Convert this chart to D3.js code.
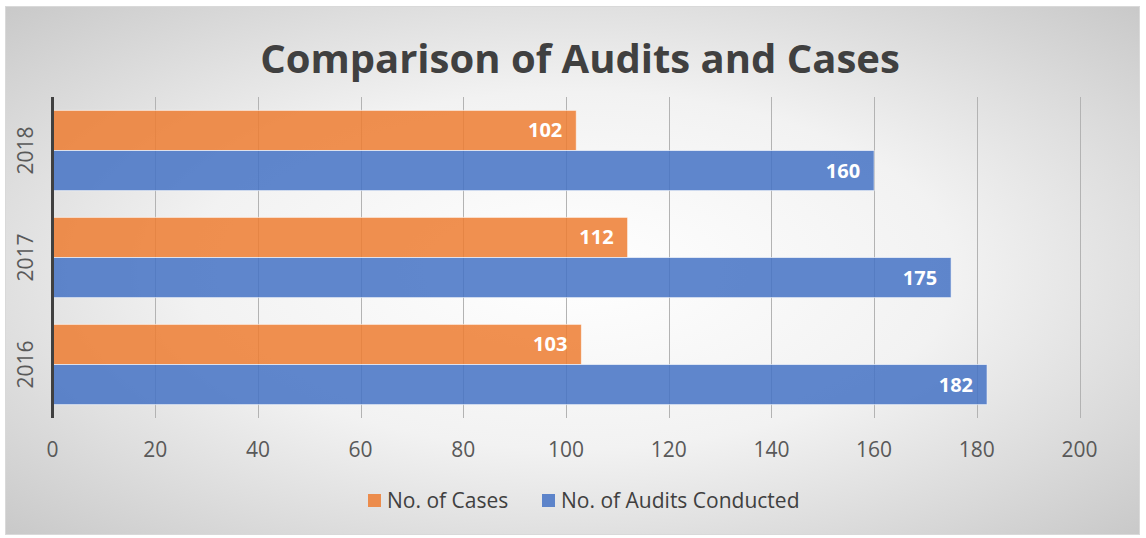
<!DOCTYPE html>
<html>
<head>
<meta charset="utf-8">
<script src="https://cdn.jsdelivr.net/npm/d3@7"></script>
<style>
  html, body { margin: 0; padding: 0; background: #fff; }
  svg text { font-family: 'Open Sans', 'Noto Sans', sans-serif; }
</style>
</head>
<body>
<svg id="chart"></svg>
<script>
const years = ['2018', '2017', '2016'];
const cases = [102, 112, 103];
const audits = [160, 175, 182];
const xTicks = [0, 20, 40, 60, 80, 100, 120, 140, 160, 180, 200];
const seriesNames = ['No. of Cases', 'No. of Audits Conducted'];
const seriesColors = ['#ED7D31', '#4472C4'];

const W = 1146, H = 538;
const margin = { top: 97, right: 66, bottom: 120, left: 52.5 };

const svg = d3.select('#chart').attr('width', W).attr('height', H);

// background with radial gradient
const defs = svg.append('defs');
const grad = defs.append('radialGradient')
  .attr('id', 'bg')
  .attr('cx', '50%').attr('cy', '50%').attr('r', '75%');
grad.append('stop').attr('offset', '0%').attr('stop-color', '#ffffff');
grad.append('stop').attr('offset', '45%').attr('stop-color', '#f2f2f2');
grad.append('stop').attr('offset', '100%').attr('stop-color', '#c4c4c4');

svg.append('rect')
  .attr('x', 5.5).attr('y', 6.5)
  .attr('width', 1134).attr('height', 528)
  .attr('fill', 'url(#bg)')
  .attr('stroke', '#d9d9d9');

const xScale = d3.scaleLinear()
  .domain([0, 200])
  .range([margin.left, W - margin.right - 0.5]);

const yScale = d3.scaleBand()
  .domain(years)
  .range([margin.top, H - margin.bottom])
  .paddingInner(0.25)
  .paddingOuter(0.125);

const inner = d3.scaleBand()
  .domain([0, 1])
  .range([0, yScale.bandwidth()]);

// gridlines
svg.append('g')
  .selectAll('line')
  .data(xTicks.slice(1))
  .join('line')
  .attr('x1', d => Math.round(xScale(d)) + 0.5)
  .attr('x2', d => Math.round(xScale(d)) + 0.5)
  .attr('y1', margin.top)
  .attr('y2', H - margin.bottom)
  .attr('stroke', '#b3b3b3')
  .attr('stroke-width', 1);

// x tick labels
svg.append('g')
  .selectAll('text')
  .data(xTicks)
  .join('text')
  .attr('x', d => xScale(d))
  .attr('y', 457)
  .attr('text-anchor', 'middle')
  .attr('font-size', 21)
  .attr('fill', '#595959')
  .text(d => d);

// bars
const rows = years.map((y, i) => ({ year: y, vals: [cases[i], audits[i]] }));

const groups = svg.append('g')
  .selectAll('g')
  .data(rows)
  .join('g')
  .attr('transform', d => `translate(0,${yScale(d.year)})`);

groups.selectAll('rect')
  .data(d => d.vals.map((v, k) => ({ v, k })))
  .join('rect')
  .attr('x', xScale(0))
  .attr('y', d => inner(d.k))
  .attr('width', d => xScale(d.v) - xScale(0))
  .attr('height', inner.bandwidth())
  .attr('fill', d => seriesColors[d.k])
  .attr('fill-opacity', 0.85)
  .attr('stroke', '#ffffff')
  .attr('stroke-opacity', 0.6)
  .attr('stroke-width', 1);

groups.selectAll('text')
  .data(d => d.vals.map((v, k) => ({ v, k })))
  .join('text')
  .attr('x', d => xScale(d.v) - 14)
  .attr('y', d => inner(d.k) + inner.bandwidth() / 2)
  .attr('dy', '0.35em')
  .attr('text-anchor', 'end')
  .attr('font-size', 20)
  .attr('font-weight', 'bold')
  .attr('fill', '#ffffff')
  .text(d => d.v);

// left axis line
svg.append('line')
  .attr('x1', xScale(0)).attr('x2', xScale(0))
  .attr('y1', margin.top).attr('y2', H - margin.bottom)
  .attr('stroke', '#404040')
  .attr('stroke-width', 3);

// year labels
svg.append('g')
  .selectAll('text')
  .data(years)
  .join('text')
  .attr('transform', d => `translate(33,${yScale(d) + yScale.bandwidth() / 2}) rotate(-90)`)
  .attr('text-anchor', 'middle')
  .attr('font-size', 21)
  .attr('fill', '#595959')
  .text(d => d);

// title
svg.append('text')
  .attr('x', 580)
  .attr('y', 73)
  .attr('text-anchor', 'middle')
  .attr('font-size', 40)
  .attr('font-weight', 'bold')
  .attr('fill', '#404040')
  .text('Comparison of Audits and Cases');

// legend
const legend = svg.append('g').attr('transform', 'translate(368,501)');
const legendX = [0, 174];
seriesNames.forEach((name, i) => {
  const g = legend.append('g').attr('transform', `translate(${legendX[i]},0)`);
  g.append('rect')
    .attr('x', 0).attr('y', -7)
    .attr('width', 13).attr('height', 13)
    .attr('fill', seriesColors[i])
    .attr('fill-opacity', 0.85);
  g.append('text')
    .attr('x', 19)
    .attr('y', 0)
    .attr('dy', '0.35em')
    .attr('font-size', 21)
    .attr('fill', '#404040')
    .text(name);
});
</script>
</body>
</html>
